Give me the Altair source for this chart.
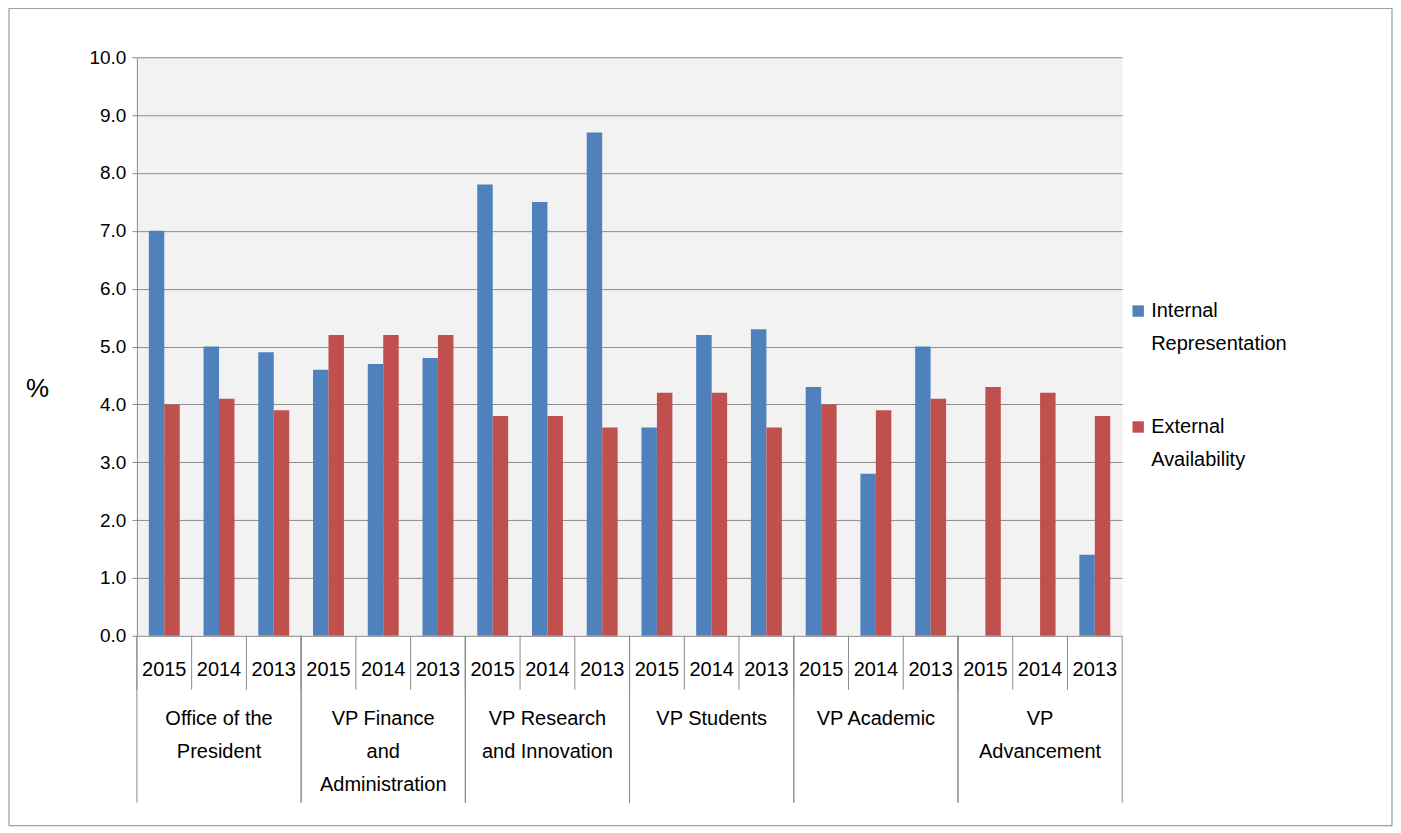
import altair as alt
import pandas as pd

depts = ["Office of the President", "VP Finance and Administration",
         "VP Research and Innovation", "VP Students", "VP Academic", "VP Advancement"]
dept_lines = ["Office of the\nPresident", "VP Finance\nand\nAdministration",
              "VP Research\nand Innovation", "VP Students", "VP Academic", "VP\nAdvancement"]
years = ["2015", "2014", "2013"]
internal = [7.0, 5.0, 4.9, 4.6, 4.7, 4.8, 7.8, 7.5, 8.7,
            3.6, 5.2, 5.3, 4.3, 2.8, 5.0, None, None, 1.4]
external = [4.0, 4.1, 3.9, 5.2, 5.2, 5.2, 3.8, 3.8, 3.6,
            4.2, 4.2, 3.6, 4.0, 3.9, 4.1, 4.3, 4.2, 3.8]
series = ["Internal Representation", "External Availability"]
colors = ["#4f81bd", "#c0504d"]

W, H = 986, 579
FONT = "Liberation Sans"
GRID = "#8c8c8c"

keys = [f"{d}|{y}" for d in depts for y in years]
rows = []
for i, k in enumerate(keys):
    for s, vals in zip(series, [internal, external]):
        if vals[i] is not None:
            rows.append({"key": k, "series": s, "value": vals[i]})
bars_df = pd.DataFrame(rows)
year_df = pd.DataFrame({"key": keys, "year": years * len(depts)})
dept_df = pd.DataFrame({"key": [f"{d}|2014" for d in depts], "label": dept_lines,
                        "first": [f"{d}|2015" for d in depts],
                        "last": [f"{d}|2013" for d in depts]})

xs = alt.Scale(domain=keys, paddingInner=0, paddingOuter=0)

bars = alt.Chart(bars_df).mark_bar().encode(
    x=alt.X("key:N", scale=xs, axis=None, sort=keys),
    xOffset=alt.XOffset("series:N", sort=series,
                        scale=alt.Scale(domain=series, paddingOuter=0.77, paddingInner=0)),
    y=alt.Y("value:Q", scale=alt.Scale(domain=[0, 10]),
            axis=alt.Axis(values=list(range(11)), format=".1f", title="%",
                          titleAngle=0, titleX=-100, titleY=H / 2 + 55,
                          titleFontSize=26, titleFontWeight="normal", titleFont=FONT,
                          labelFont=FONT, labelFontSize=19, labelColor="black",
                          labelPadding=6, gridColor=GRID, domainColor=GRID,
                          tickColor=GRID, tickSize=5)),
    color=alt.Color("series:N", scale=alt.Scale(domain=series, range=colors), legend=None),
)

year_lines = alt.Chart(year_df).mark_rule(color=GRID).encode(
    x=alt.X("key:N", scale=xs, bandPosition=0, sort=keys),
    y=alt.value(H), y2=alt.value(H + 54))
year_text = alt.Chart(year_df).mark_text(font=FONT, fontSize=20, baseline="middle").encode(
    x=alt.X("key:N", scale=xs, sort=keys), y=alt.value(H + 34), text="year:N")
dept_l = alt.Chart(dept_df).mark_rule(color=GRID).encode(
    x=alt.X("first:N", scale=xs, bandPosition=0, sort=keys),
    y=alt.value(H), y2=alt.value(H + 167))
dept_r = alt.Chart(dept_df).mark_rule(color=GRID).encode(
    x=alt.X("last:N", scale=xs, bandPosition=1, sort=keys),
    y=alt.value(H), y2=alt.value(H + 167))
dept_text = alt.Chart(dept_df).mark_text(font=FONT, fontSize=20, baseline="top",
                                         lineBreak="\n", lineHeight=33).encode(
    x=alt.X("key:N", scale=xs, sort=keys), y=alt.value(H + 73), text="label:N")

leg_df = pd.DataFrame({"series": series, "l1": ["Internal", "External"],
                       "l2": ["Representation", "Availability"], "ly": [254, 370]})
leg_sq = alt.Chart(leg_df).mark_square(size=130, opacity=1).encode(
    x=alt.value(W + 16), y="ly:Q",
    color=alt.Color("series:N", scale=alt.Scale(domain=series, range=colors), legend=None))
leg_t1 = alt.Chart(leg_df).mark_text(font=FONT, fontSize=20, align="left", baseline="middle").encode(
    x=alt.value(W + 29), y="ly:Q", text="l1:N")
leg_t2 = alt.Chart(leg_df).mark_text(font=FONT, fontSize=20, align="left", baseline="middle", dy=33).encode(
    x=alt.value(W + 29), y="ly:Q", text="l2:N")
leg = alt.layer(leg_sq, leg_t1, leg_t2).encode(
    y=alt.Y("ly:Q", scale=alt.Scale(domain=[0, H], range=[0, H]), axis=None))

frame = alt.Chart(pd.DataFrame({"a": [0]})).mark_rect(fill=None, stroke="#888888").encode(
    x=alt.value(-128), x2=alt.value(1256), y=alt.value(-49), y2=alt.value(769))

chart = alt.layer(bars, year_lines, year_text, dept_l, dept_r, dept_text, leg, frame).resolve_scale(
    y="independent"
).properties(
    width=W, height=H, autosize="none",
    padding={"left": 129, "top": 49, "right": 271, "bottom": 195},
    background="white"
).configure_view(fill="#f2f2f2", stroke=None)

chart.save("out.html", embed_options={"renderer": "svg", "actions": False})
